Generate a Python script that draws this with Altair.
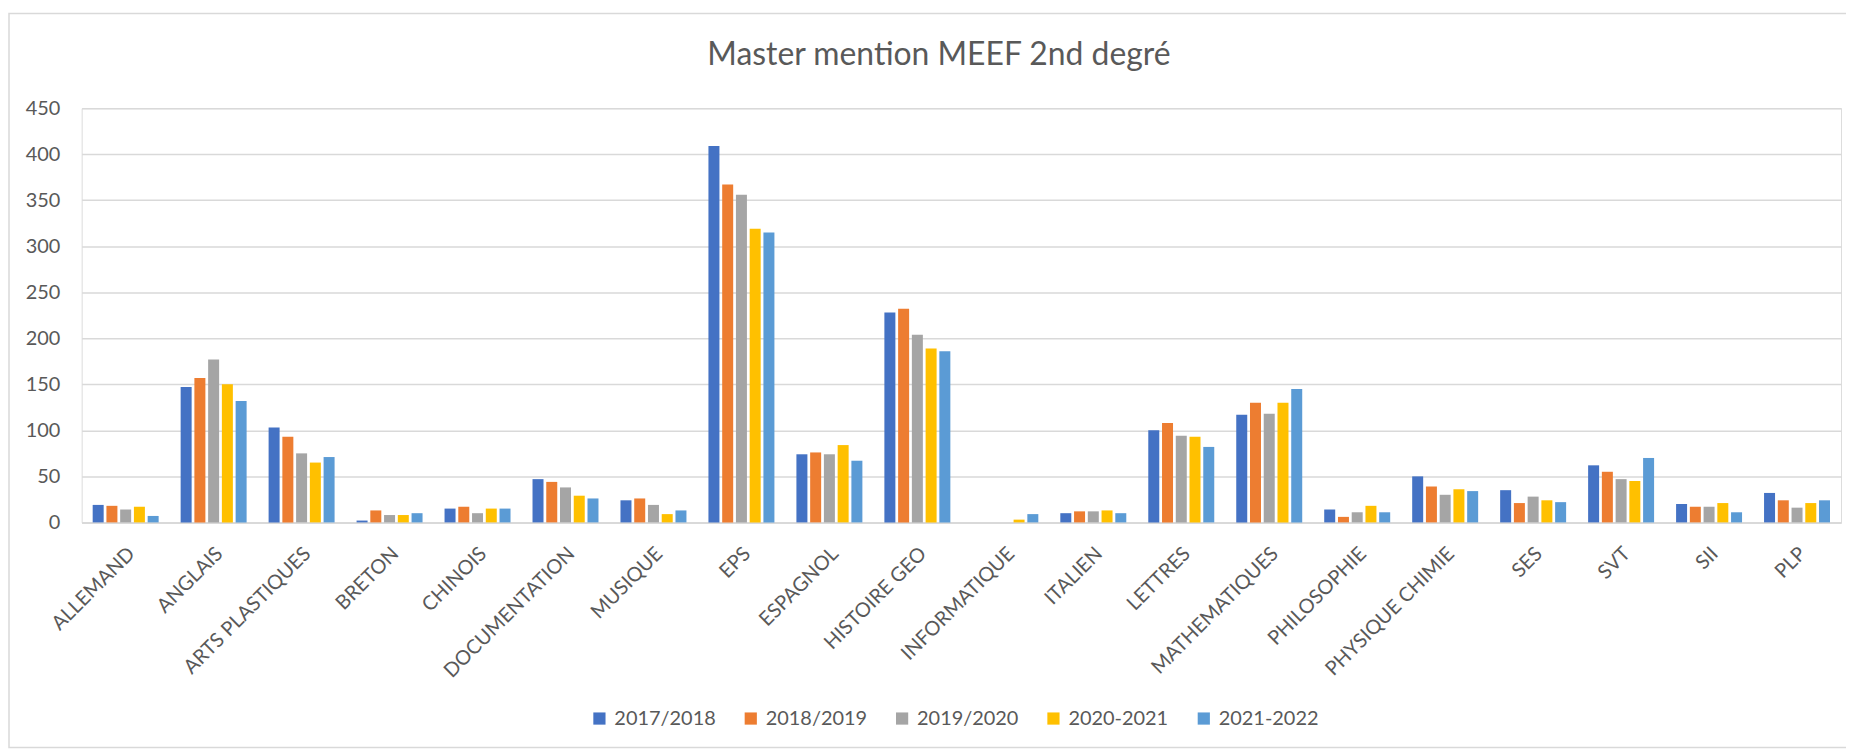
import altair as alt
import pandas as pd

categories = ["ALLEMAND", "ANGLAIS", "ARTS PLASTIQUES", "BRETON", "CHINOIS",
              "DOCUMENTATION", "MUSIQUE", "EPS", "ESPAGNOL", "HISTOIRE GEO",
              "INFORMATIQUE", "ITALIEN", "LETTRES", "MATHEMATIQUES", "PHILOSOPHIE",
              "PHYSIQUE CHIMIE", "SES", "SVT", "SII", "PLP"]
years = ["2017/2018", "2018/2019", "2019/2020", "2020-2021", "2021-2022"]
colors = ["#4472C4", "#ED7D31", "#A5A5A5", "#FFC000", "#5B9BD5"]
title_text = ["Master mention MEEF 2nd degré"]

v_2017_2018 = [19, 147, 103, 2, 15, 47, 24, 409, 74, 228, 0, 10, 100, 117, 14, 50, 35, 62, 20, 32]
v_2018_2019 = [18, 157, 93, 13, 17, 44, 26, 367, 76, 232, 0, 12, 108, 130, 6, 39, 21, 55, 17, 24]
v_2019_2020 = [14, 177, 75, 8, 10, 38, 19, 356, 74, 204, 0, 12, 94, 118, 11, 30, 28, 47, 17, 16]
v_2020_2021 = [17, 150, 65, 8, 15, 29, 9, 319, 84, 189, 3, 13, 93, 130, 18, 36, 24, 45, 21, 21]
v_2021_2022 = [7, 132, 71, 10, 15, 26, 13, 315, 67, 186, 9, 10, 82, 145, 11, 34, 22, 70, 11, 24]

series = [v_2017_2018, v_2018_2019, v_2019_2020, v_2020_2021, v_2021_2022]

rows = []
for yr, vals in zip(years, series):
    for c, v in zip(categories, vals):
        rows.append({"Discipline": c, "Annee": yr, "Effectif": v})
df = pd.DataFrame(rows)

FONT = "Lato"
TXT = "#595959"
GRID = "#d9d9d9"

bars = alt.Chart(df).mark_bar().encode(
    x=alt.X("Discipline:N", sort=categories,
            scale=alt.Scale(paddingInner=0.25, paddingOuter=0.125),
            axis=alt.Axis(title=None, labelAngle=-45, labelFont=FONT, labelFontSize=20,
                          labelColor=TXT, ticks=False, domainColor=GRID, domainWidth=2,
                          labelPadding=28, labelOffset=6, labelAlign="right",
                          labelBaseline="middle")),
    xOffset=alt.XOffset("Annee:N", sort=years,
                        scale=alt.Scale(paddingInner=0.2, paddingOuter=0)),
    y=alt.Y("Effectif:Q", scale=alt.Scale(domain=[0, 450], nice=False),
            axis=alt.Axis(title=None, values=list(range(0, 451, 50)), domain=False,
                          ticks=False, gridColor=GRID, gridWidth=1.5, labelFont=FONT,
                          labelFontSize=20, labelColor=TXT, labelPadding=22)),
    color=alt.Color("Annee:N", sort=years,
                    scale=alt.Scale(domain=years, range=colors),
                    legend=alt.Legend(title=None, orient="none", legendX=510, legendY=603,
                                      direction="horizontal", symbolType="square",
                                      symbolSize=150, symbolStrokeWidth=0,
                                      labelFont=FONT, labelFontSize=20, labelColor=TXT,
                                      labelOffset=5, columnPadding=25)),
)

border = alt.Chart(pd.DataFrame({"a": [0]})).mark_rect(
    fill="transparent", stroke=GRID, strokeWidth=1.5
).encode(
    x=alt.value(-73), x2=alt.value(1800), y=alt.value(-95), y2=alt.value(642)
)

title = alt.Chart(pd.DataFrame({"t": title_text})).mark_text(
    font=FONT, fontSize=32, color=TXT, align="center", baseline="alphabetic"
).encode(text="t:N", x=alt.value(861), y=alt.value(-43))

chart = alt.layer(border, bars, title).properties(
    width=1767, height=416,
    padding={"left": 74, "top": 99, "right": 5, "bottom": 236},
    autosize=alt.AutoSizeParams(type="none"),
).configure_view(stroke=None).configure(background="white")

chart.save("out.html", embed_options={"renderer": "svg", "actions": False})
